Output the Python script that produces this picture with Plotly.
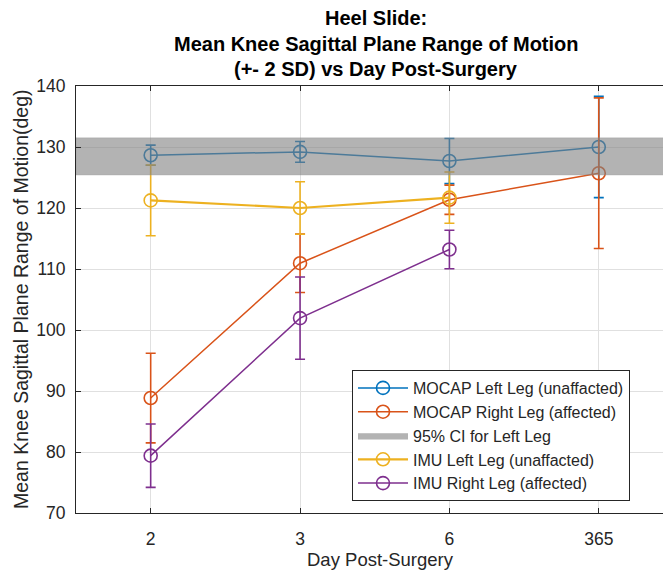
import plotly.graph_objects as go

# Day post-surgery categories (plotted at evenly spaced positions)
days = ["2", "3", "6", "365"]
pos = [1, 2, 3, 4]

# Mean knee sagittal ROM (deg) and 2*SD half-widths
mocap_left = [128.65, 129.2, 127.7, 130.0]
mocap_left_2sd = [1.65, 1.7, 3.7, 8.3]

mocap_right = [88.85, 110.95, 121.35, 125.7]
mocap_right_2sd = [7.35, 4.8, 2.4, 12.35]

imu_left = [121.25, 120.0, 121.7]
imu_left_2sd = [5.8, 4.3, 4.2]

imu_right = [79.4, 101.95, 113.2]
imu_right_2sd = [5.2, 6.75, 3.15]

# 95% confidence interval for the left leg (deg)
ci_low, ci_high = 125.4, 131.5

BLUE = "#0072BD"
ORANGE = "#D95319"
YELLOW = "#EDB120"
PURPLE = "#7E2F8E"
TXT = "#262626"
FONT = "Liberation Sans, Arial, sans-serif"

W, H = 663, 574
ML, MR, MT, MB = 76, 0, 86, 61


def series(name, y, err, color, rank, lw=1.5):
    n = len(y)
    return go.Scatter(
        x=pos[:n], y=y, name=name, mode="lines+markers",
        line=dict(color=color, width=lw),
        marker=dict(symbol="circle-open", size=13, color=color,
                    line=dict(width=1.6, color=color)),
        error_y=dict(type="data", array=err, visible=True,
                     color=color, thickness=1.6, width=5),
        legendrank=rank,
    )


fig = go.Figure()
fig.add_trace(series("MOCAP Left Leg (unaffacted)", mocap_left, mocap_left_2sd, BLUE, 1))
fig.add_trace(series("MOCAP Right Leg (affected)", mocap_right, mocap_right_2sd, ORANGE, 2))
fig.add_trace(series("IMU Left Leg (unaffacted)", imu_left, imu_left_2sd, YELLOW, 4, lw=2.2))
fig.add_trace(series("IMU Right Leg (affected)", imu_right, imu_right_2sd, PURPLE, 5))

# Semi-transparent CI band, drawn on top of the series
fig.add_trace(go.Scatter(
    x=[0.5, 4.5, 4.5, 0.5, 0.5],
    y=[ci_low, ci_low, ci_high, ci_high, ci_low],
    fill="toself", fillcolor="rgba(128,128,128,0.6)",
    line=dict(width=0.5, color="rgba(150,150,150,0.6)"),
    mode="lines", name="95% CI for Left Leg", legendrank=3,
    hoverinfo="skip",
))

pw = W - ML - MR
ph = H - MT - MB


def px_x(p):
    return (p - ML) / pw


def px_y(p):
    return (H - MB - p) / ph


title_lines = [
    "Heel Slide:",
    "Mean Knee Sagittal Plane Range of Motion",
    "(+- 2 SD) vs Day Post-Surgery",
]
title_y = [18, 44, 69]
annotations = []
for txt, yy in zip(title_lines, title_y):
    annotations.append(dict(
        text=f"<b>{txt}</b>", xref="paper", yref="paper",
        x=px_x(376), y=px_y(yy), xanchor="center", yanchor="middle",
        showarrow=False, font=dict(family=FONT, size=20, color="black"),
    ))
annotations.append(dict(
    text="Day Post-Surgery", xref="paper", yref="paper",
    x=px_x(380), y=px_y(559), xanchor="center", yanchor="middle",
    showarrow=False, font=dict(family=FONT, size=18.5, color=TXT),
))
annotations.append(dict(
    text="Mean Knee Sagittal Plane Range of Motion(deg)", xref="paper", yref="paper",
    x=px_x(21), y=px_y(299), xanchor="center", yanchor="middle", textangle=-90,
    showarrow=False, font=dict(family=FONT, size=19.5, color=TXT),
))

fig.update_layout(
    width=W, height=H,
    margin=dict(l=ML, r=MR, t=MT, b=MB),
    paper_bgcolor="white", plot_bgcolor="white",
    font=dict(family=FONT, color=TXT),
    annotations=annotations,
    legend=dict(
        x=px_x(352), y=px_y(370), xanchor="left", yanchor="top",
        bgcolor="white", bordercolor=TXT, borderwidth=1,
        font=dict(family=FONT, size=16, color=TXT),
        itemwidth=50, tracegroupgap=0,
    ),
    showlegend=True,
)
fig.update_xaxes(
    range=[0.5, 4.43], tickvals=pos, ticktext=days,
    showline=True, linecolor=TXT, linewidth=1, mirror="ticks",
    ticks="inside", ticklen=5, tickcolor=TXT,
    showgrid=True, gridcolor="#e0e0e0", gridwidth=1, zeroline=False,
    tickfont=dict(family=FONT, size=17.5, color=TXT),
    ticklabelstandoff=10,
)
fig.update_yaxes(
    range=[70, 140], tickvals=list(range(70, 141, 10)),
    showline=True, linecolor=TXT, linewidth=1, mirror=False,
    ticks="inside", ticklen=5, tickcolor=TXT,
    showgrid=True, gridcolor="#e0e0e0", gridwidth=1, zeroline=False,
    tickfont=dict(family=FONT, size=17.5, color=TXT),
    ticklabelstandoff=6,
)

fig.write_html("out.html")
